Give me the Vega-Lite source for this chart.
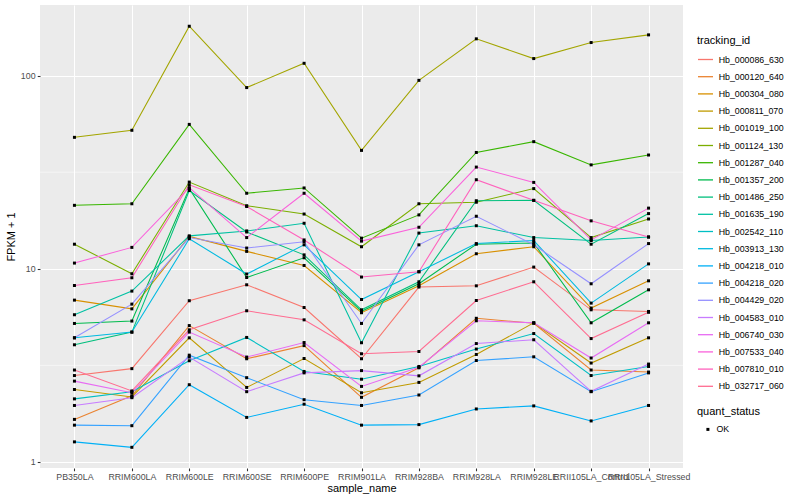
{
"$schema": "https://vega.github.io/schema/vega-lite/v6.json",
"width": 643, "height": 463,
"autosize": {"type": "none"},
"padding": {"left": 40, "top": 5, "right": 117, "bottom": 32},
"background": "white",
"config": {
 "font": "Liberation Sans",
 "view": {"fill": "#EBEBEB", "stroke": null},
 "axis": {"domain": false, "grid": true, "gridColor": "white", "gridWidth": 1.07, "tickColor": "#333333", "tickSize": 2.75, "tickWidth": 1.07, "labelColor": "#4D4D4D", "labelFontSize": 8.8, "labelFont": "Liberation Sans", "titleFont": "Liberation Sans", "titleFontSize": 11, "titleFontWeight": "normal", "titleColor": "black", "labelPadding": 2.2},
 "legend": {"labelFont": "Liberation Sans", "titleFont": "Liberation Sans"}
},
"datasets": {
 "minor": [{"g": 3.1623}, {"g": 31.623}],
 "fpkm": [
{"tracking_id":"Hb_000086_630","sample_name":"PB350LA","fpkm":2.80,"quant_status":"OK"},
{"tracking_id":"Hb_000086_630","sample_name":"RRIM600LA","fpkm":3.04,"quant_status":"OK"},
{"tracking_id":"Hb_000086_630","sample_name":"RRIM600LE","fpkm":6.83,"quant_status":"OK"},
{"tracking_id":"Hb_000086_630","sample_name":"RRIM600SE","fpkm":8.26,"quant_status":"OK"},
{"tracking_id":"Hb_000086_630","sample_name":"RRIM600PE","fpkm":6.30,"quant_status":"OK"},
{"tracking_id":"Hb_000086_630","sample_name":"RRIM901LA","fpkm":3.42,"quant_status":"OK"},
{"tracking_id":"Hb_000086_630","sample_name":"RRIM928BA","fpkm":8.04,"quant_status":"OK"},
{"tracking_id":"Hb_000086_630","sample_name":"RRIM928LA","fpkm":8.16,"quant_status":"OK"},
{"tracking_id":"Hb_000086_630","sample_name":"RRIM928LE","fpkm":10.2,"quant_status":"OK"},
{"tracking_id":"Hb_000086_630","sample_name":"RRII105LA_Control","fpkm":6.13,"quant_status":"OK"},
{"tracking_id":"Hb_000086_630","sample_name":"RRII105LA_Stressed","fpkm":6.01,"quant_status":"OK"},
{"tracking_id":"Hb_000120_640","sample_name":"PB350LA","fpkm":1.66,"quant_status":"OK"},
{"tracking_id":"Hb_000120_640","sample_name":"RRIM600LA","fpkm":2.20,"quant_status":"OK"},
{"tracking_id":"Hb_000120_640","sample_name":"RRIM600LE","fpkm":5.08,"quant_status":"OK"},
{"tracking_id":"Hb_000120_640","sample_name":"RRIM600SE","fpkm":3.42,"quant_status":"OK"},
{"tracking_id":"Hb_000120_640","sample_name":"RRIM600PE","fpkm":4.00,"quant_status":"OK"},
{"tracking_id":"Hb_000120_640","sample_name":"RRIM901LA","fpkm":2.16,"quant_status":"OK"},
{"tracking_id":"Hb_000120_640","sample_name":"RRIM928BA","fpkm":3.07,"quant_status":"OK"},
{"tracking_id":"Hb_000120_640","sample_name":"RRIM928LA","fpkm":5.54,"quant_status":"OK"},
{"tracking_id":"Hb_000120_640","sample_name":"RRIM928LE","fpkm":5.22,"quant_status":"OK"},
{"tracking_id":"Hb_000120_640","sample_name":"RRII105LA_Control","fpkm":2.99,"quant_status":"OK"},
{"tracking_id":"Hb_000120_640","sample_name":"RRII105LA_Stressed","fpkm":2.92,"quant_status":"OK"},
{"tracking_id":"Hb_000304_080","sample_name":"PB350LA","fpkm":6.88,"quant_status":"OK"},
{"tracking_id":"Hb_000304_080","sample_name":"RRIM600LA","fpkm":6.20,"quant_status":"OK"},
{"tracking_id":"Hb_000304_080","sample_name":"RRIM600LE","fpkm":14.7,"quant_status":"OK"},
{"tracking_id":"Hb_000304_080","sample_name":"RRIM600SE","fpkm":12.3,"quant_status":"OK"},
{"tracking_id":"Hb_000304_080","sample_name":"RRIM600PE","fpkm":10.4,"quant_status":"OK"},
{"tracking_id":"Hb_000304_080","sample_name":"RRIM901LA","fpkm":5.92,"quant_status":"OK"},
{"tracking_id":"Hb_000304_080","sample_name":"RRIM928BA","fpkm":8.16,"quant_status":"OK"},
{"tracking_id":"Hb_000304_080","sample_name":"RRIM928LA","fpkm":11.96,"quant_status":"OK"},
{"tracking_id":"Hb_000304_080","sample_name":"RRIM928LE","fpkm":13.0,"quant_status":"OK"},
{"tracking_id":"Hb_000304_080","sample_name":"RRII105LA_Control","fpkm":6.26,"quant_status":"OK"},
{"tracking_id":"Hb_000304_080","sample_name":"RRII105LA_Stressed","fpkm":8.66,"quant_status":"OK"},
{"tracking_id":"Hb_000811_070","sample_name":"PB350LA","fpkm":2.37,"quant_status":"OK"},
{"tracking_id":"Hb_000811_070","sample_name":"RRIM600LA","fpkm":2.17,"quant_status":"OK"},
{"tracking_id":"Hb_000811_070","sample_name":"RRIM600LE","fpkm":4.39,"quant_status":"OK"},
{"tracking_id":"Hb_000811_070","sample_name":"RRIM600SE","fpkm":2.43,"quant_status":"OK"},
{"tracking_id":"Hb_000811_070","sample_name":"RRIM600PE","fpkm":3.43,"quant_status":"OK"},
{"tracking_id":"Hb_000811_070","sample_name":"RRIM901LA","fpkm":2.28,"quant_status":"OK"},
{"tracking_id":"Hb_000811_070","sample_name":"RRIM928BA","fpkm":2.58,"quant_status":"OK"},
{"tracking_id":"Hb_000811_070","sample_name":"RRIM928LA","fpkm":3.60,"quant_status":"OK"},
{"tracking_id":"Hb_000811_070","sample_name":"RRIM928LE","fpkm":5.25,"quant_status":"OK"},
{"tracking_id":"Hb_000811_070","sample_name":"RRII105LA_Control","fpkm":3.25,"quant_status":"OK"},
{"tracking_id":"Hb_000811_070","sample_name":"RRII105LA_Stressed","fpkm":4.39,"quant_status":"OK"},
{"tracking_id":"Hb_001019_100","sample_name":"PB350LA","fpkm":47.9,"quant_status":"OK"},
{"tracking_id":"Hb_001019_100","sample_name":"RRIM600LA","fpkm":52.1,"quant_status":"OK"},
{"tracking_id":"Hb_001019_100","sample_name":"RRIM600LE","fpkm":180.1,"quant_status":"OK"},
{"tracking_id":"Hb_001019_100","sample_name":"RRIM600SE","fpkm":86.7,"quant_status":"OK"},
{"tracking_id":"Hb_001019_100","sample_name":"RRIM600PE","fpkm":115.8,"quant_status":"OK"},
{"tracking_id":"Hb_001019_100","sample_name":"RRIM901LA","fpkm":41.0,"quant_status":"OK"},
{"tracking_id":"Hb_001019_100","sample_name":"RRIM928BA","fpkm":94.5,"quant_status":"OK"},
{"tracking_id":"Hb_001019_100","sample_name":"RRIM928LA","fpkm":155.0,"quant_status":"OK"},
{"tracking_id":"Hb_001019_100","sample_name":"RRIM928LE","fpkm":122.5,"quant_status":"OK"},
{"tracking_id":"Hb_001019_100","sample_name":"RRII105LA_Control","fpkm":148.3,"quant_status":"OK"},
{"tracking_id":"Hb_001019_100","sample_name":"RRII105LA_Stressed","fpkm":162.5,"quant_status":"OK"},
{"tracking_id":"Hb_001124_130","sample_name":"PB350LA","fpkm":13.4,"quant_status":"OK"},
{"tracking_id":"Hb_001124_130","sample_name":"RRIM600LA","fpkm":9.42,"quant_status":"OK"},
{"tracking_id":"Hb_001124_130","sample_name":"RRIM600LE","fpkm":28.1,"quant_status":"OK"},
{"tracking_id":"Hb_001124_130","sample_name":"RRIM600SE","fpkm":21.2,"quant_status":"OK"},
{"tracking_id":"Hb_001124_130","sample_name":"RRIM600PE","fpkm":19.2,"quant_status":"OK"},
{"tracking_id":"Hb_001124_130","sample_name":"RRIM901LA","fpkm":13.0,"quant_status":"OK"},
{"tracking_id":"Hb_001124_130","sample_name":"RRIM928BA","fpkm":21.7,"quant_status":"OK"},
{"tracking_id":"Hb_001124_130","sample_name":"RRIM928LA","fpkm":22.1,"quant_status":"OK"},
{"tracking_id":"Hb_001124_130","sample_name":"RRIM928LE","fpkm":26.0,"quant_status":"OK"},
{"tracking_id":"Hb_001124_130","sample_name":"RRII105LA_Control","fpkm":14.5,"quant_status":"OK"},
{"tracking_id":"Hb_001124_130","sample_name":"RRII105LA_Stressed","fpkm":18.1,"quant_status":"OK"},
{"tracking_id":"Hb_001287_040","sample_name":"PB350LA","fpkm":21.3,"quant_status":"OK"},
{"tracking_id":"Hb_001287_040","sample_name":"RRIM600LA","fpkm":21.7,"quant_status":"OK"},
{"tracking_id":"Hb_001287_040","sample_name":"RRIM600LE","fpkm":55.9,"quant_status":"OK"},
{"tracking_id":"Hb_001287_040","sample_name":"RRIM600SE","fpkm":24.6,"quant_status":"OK"},
{"tracking_id":"Hb_001287_040","sample_name":"RRIM600PE","fpkm":26.2,"quant_status":"OK"},
{"tracking_id":"Hb_001287_040","sample_name":"RRIM901LA","fpkm":14.4,"quant_status":"OK"},
{"tracking_id":"Hb_001287_040","sample_name":"RRIM928BA","fpkm":19.0,"quant_status":"OK"},
{"tracking_id":"Hb_001287_040","sample_name":"RRIM928LA","fpkm":40.0,"quant_status":"OK"},
{"tracking_id":"Hb_001287_040","sample_name":"RRIM928LE","fpkm":45.5,"quant_status":"OK"},
{"tracking_id":"Hb_001287_040","sample_name":"RRII105LA_Control","fpkm":34.5,"quant_status":"OK"},
{"tracking_id":"Hb_001287_040","sample_name":"RRII105LA_Stressed","fpkm":38.8,"quant_status":"OK"},
{"tracking_id":"Hb_001357_200","sample_name":"PB350LA","fpkm":5.21,"quant_status":"OK"},
{"tracking_id":"Hb_001357_200","sample_name":"RRIM600LA","fpkm":5.36,"quant_status":"OK"},
{"tracking_id":"Hb_001357_200","sample_name":"RRIM600LE","fpkm":26.0,"quant_status":"OK"},
{"tracking_id":"Hb_001357_200","sample_name":"RRIM600SE","fpkm":9.01,"quant_status":"OK"},
{"tracking_id":"Hb_001357_200","sample_name":"RRIM600PE","fpkm":11.4,"quant_status":"OK"},
{"tracking_id":"Hb_001357_200","sample_name":"RRIM901LA","fpkm":6.02,"quant_status":"OK"},
{"tracking_id":"Hb_001357_200","sample_name":"RRIM928BA","fpkm":8.36,"quant_status":"OK"},
{"tracking_id":"Hb_001357_200","sample_name":"RRIM928LA","fpkm":13.4,"quant_status":"OK"},
{"tracking_id":"Hb_001357_200","sample_name":"RRIM928LE","fpkm":13.6,"quant_status":"OK"},
{"tracking_id":"Hb_001357_200","sample_name":"RRII105LA_Control","fpkm":5.25,"quant_status":"OK"},
{"tracking_id":"Hb_001357_200","sample_name":"RRII105LA_Stressed","fpkm":7.78,"quant_status":"OK"},
{"tracking_id":"Hb_001486_250","sample_name":"PB350LA","fpkm":4.04,"quant_status":"OK"},
{"tracking_id":"Hb_001486_250","sample_name":"RRIM600LA","fpkm":4.70,"quant_status":"OK"},
{"tracking_id":"Hb_001486_250","sample_name":"RRIM600LE","fpkm":25.4,"quant_status":"OK"},
{"tracking_id":"Hb_001486_250","sample_name":"RRIM600SE","fpkm":15.5,"quant_status":"OK"},
{"tracking_id":"Hb_001486_250","sample_name":"RRIM600PE","fpkm":11.8,"quant_status":"OK"},
{"tracking_id":"Hb_001486_250","sample_name":"RRIM901LA","fpkm":6.13,"quant_status":"OK"},
{"tracking_id":"Hb_001486_250","sample_name":"RRIM928BA","fpkm":8.56,"quant_status":"OK"},
{"tracking_id":"Hb_001486_250","sample_name":"RRIM928LA","fpkm":22.5,"quant_status":"OK"},
{"tracking_id":"Hb_001486_250","sample_name":"RRIM928LE","fpkm":22.6,"quant_status":"OK"},
{"tracking_id":"Hb_001486_250","sample_name":"RRII105LA_Control","fpkm":13.4,"quant_status":"OK"},
{"tracking_id":"Hb_001486_250","sample_name":"RRII105LA_Stressed","fpkm":19.3,"quant_status":"OK"},
{"tracking_id":"Hb_001635_190","sample_name":"PB350LA","fpkm":5.78,"quant_status":"OK"},
{"tracking_id":"Hb_001635_190","sample_name":"RRIM600LA","fpkm":7.66,"quant_status":"OK"},
{"tracking_id":"Hb_001635_190","sample_name":"RRIM600LE","fpkm":14.8,"quant_status":"OK"},
{"tracking_id":"Hb_001635_190","sample_name":"RRIM600SE","fpkm":15.7,"quant_status":"OK"},
{"tracking_id":"Hb_001635_190","sample_name":"RRIM600PE","fpkm":17.2,"quant_status":"OK"},
{"tracking_id":"Hb_001635_190","sample_name":"RRIM901LA","fpkm":4.14,"quant_status":"OK"},
{"tracking_id":"Hb_001635_190","sample_name":"RRIM928BA","fpkm":15.3,"quant_status":"OK"},
{"tracking_id":"Hb_001635_190","sample_name":"RRIM928LA","fpkm":16.7,"quant_status":"OK"},
{"tracking_id":"Hb_001635_190","sample_name":"RRIM928LE","fpkm":14.5,"quant_status":"OK"},
{"tracking_id":"Hb_001635_190","sample_name":"RRII105LA_Control","fpkm":14.0,"quant_status":"OK"},
{"tracking_id":"Hb_001635_190","sample_name":"RRII105LA_Stressed","fpkm":14.6,"quant_status":"OK"},
{"tracking_id":"Hb_002542_110","sample_name":"PB350LA","fpkm":2.12,"quant_status":"OK"},
{"tracking_id":"Hb_002542_110","sample_name":"RRIM600LA","fpkm":2.31,"quant_status":"OK"},
{"tracking_id":"Hb_002542_110","sample_name":"RRIM600LE","fpkm":3.34,"quant_status":"OK"},
{"tracking_id":"Hb_002542_110","sample_name":"RRIM600SE","fpkm":4.41,"quant_status":"OK"},
{"tracking_id":"Hb_002542_110","sample_name":"RRIM600PE","fpkm":2.94,"quant_status":"OK"},
{"tracking_id":"Hb_002542_110","sample_name":"RRIM901LA","fpkm":2.68,"quant_status":"OK"},
{"tracking_id":"Hb_002542_110","sample_name":"RRIM928BA","fpkm":3.12,"quant_status":"OK"},
{"tracking_id":"Hb_002542_110","sample_name":"RRIM928LA","fpkm":3.84,"quant_status":"OK"},
{"tracking_id":"Hb_002542_110","sample_name":"RRIM928LE","fpkm":4.62,"quant_status":"OK"},
{"tracking_id":"Hb_002542_110","sample_name":"RRII105LA_Control","fpkm":2.80,"quant_status":"OK"},
{"tracking_id":"Hb_002542_110","sample_name":"RRII105LA_Stressed","fpkm":3.12,"quant_status":"OK"},
{"tracking_id":"Hb_003913_130","sample_name":"PB350LA","fpkm":4.39,"quant_status":"OK"},
{"tracking_id":"Hb_003913_130","sample_name":"RRIM600LA","fpkm":4.70,"quant_status":"OK"},
{"tracking_id":"Hb_003913_130","sample_name":"RRIM600LE","fpkm":14.3,"quant_status":"OK"},
{"tracking_id":"Hb_003913_130","sample_name":"RRIM600SE","fpkm":9.39,"quant_status":"OK"},
{"tracking_id":"Hb_003913_130","sample_name":"RRIM600PE","fpkm":13.3,"quant_status":"OK"},
{"tracking_id":"Hb_003913_130","sample_name":"RRIM901LA","fpkm":6.93,"quant_status":"OK"},
{"tracking_id":"Hb_003913_130","sample_name":"RRIM928BA","fpkm":9.65,"quant_status":"OK"},
{"tracking_id":"Hb_003913_130","sample_name":"RRIM928LA","fpkm":13.5,"quant_status":"OK"},
{"tracking_id":"Hb_003913_130","sample_name":"RRIM928LE","fpkm":14.0,"quant_status":"OK"},
{"tracking_id":"Hb_003913_130","sample_name":"RRII105LA_Control","fpkm":6.64,"quant_status":"OK"},
{"tracking_id":"Hb_003913_130","sample_name":"RRII105LA_Stressed","fpkm":10.6,"quant_status":"OK"},
{"tracking_id":"Hb_004218_010","sample_name":"PB350LA","fpkm":1.27,"quant_status":"OK"},
{"tracking_id":"Hb_004218_010","sample_name":"RRIM600LA","fpkm":1.19,"quant_status":"OK"},
{"tracking_id":"Hb_004218_010","sample_name":"RRIM600LE","fpkm":2.51,"quant_status":"OK"},
{"tracking_id":"Hb_004218_010","sample_name":"RRIM600SE","fpkm":1.70,"quant_status":"OK"},
{"tracking_id":"Hb_004218_010","sample_name":"RRIM600PE","fpkm":1.99,"quant_status":"OK"},
{"tracking_id":"Hb_004218_010","sample_name":"RRIM901LA","fpkm":1.55,"quant_status":"OK"},
{"tracking_id":"Hb_004218_010","sample_name":"RRIM928BA","fpkm":1.56,"quant_status":"OK"},
{"tracking_id":"Hb_004218_010","sample_name":"RRIM928LA","fpkm":1.88,"quant_status":"OK"},
{"tracking_id":"Hb_004218_010","sample_name":"RRIM928LE","fpkm":1.95,"quant_status":"OK"},
{"tracking_id":"Hb_004218_010","sample_name":"RRII105LA_Control","fpkm":1.63,"quant_status":"OK"},
{"tracking_id":"Hb_004218_010","sample_name":"RRII105LA_Stressed","fpkm":1.96,"quant_status":"OK"},
{"tracking_id":"Hb_004218_020","sample_name":"PB350LA","fpkm":1.55,"quant_status":"OK"},
{"tracking_id":"Hb_004218_020","sample_name":"RRIM600LA","fpkm":1.54,"quant_status":"OK"},
{"tracking_id":"Hb_004218_020","sample_name":"RRIM600LE","fpkm":3.57,"quant_status":"OK"},
{"tracking_id":"Hb_004218_020","sample_name":"RRIM600SE","fpkm":2.73,"quant_status":"OK"},
{"tracking_id":"Hb_004218_020","sample_name":"RRIM600PE","fpkm":2.10,"quant_status":"OK"},
{"tracking_id":"Hb_004218_020","sample_name":"RRIM901LA","fpkm":1.96,"quant_status":"OK"},
{"tracking_id":"Hb_004218_020","sample_name":"RRIM928BA","fpkm":2.22,"quant_status":"OK"},
{"tracking_id":"Hb_004218_020","sample_name":"RRIM928LA","fpkm":3.35,"quant_status":"OK"},
{"tracking_id":"Hb_004218_020","sample_name":"RRIM928LE","fpkm":3.50,"quant_status":"OK"},
{"tracking_id":"Hb_004218_020","sample_name":"RRII105LA_Control","fpkm":2.31,"quant_status":"OK"},
{"tracking_id":"Hb_004218_020","sample_name":"RRII105LA_Stressed","fpkm":2.89,"quant_status":"OK"},
{"tracking_id":"Hb_004429_020","sample_name":"PB350LA","fpkm":4.39,"quant_status":"OK"},
{"tracking_id":"Hb_004429_020","sample_name":"RRIM600LA","fpkm":6.56,"quant_status":"OK"},
{"tracking_id":"Hb_004429_020","sample_name":"RRIM600LE","fpkm":14.5,"quant_status":"OK"},
{"tracking_id":"Hb_004429_020","sample_name":"RRIM600SE","fpkm":12.8,"quant_status":"OK"},
{"tracking_id":"Hb_004429_020","sample_name":"RRIM600PE","fpkm":13.8,"quant_status":"OK"},
{"tracking_id":"Hb_004429_020","sample_name":"RRIM901LA","fpkm":5.21,"quant_status":"OK"},
{"tracking_id":"Hb_004429_020","sample_name":"RRIM928BA","fpkm":13.3,"quant_status":"OK"},
{"tracking_id":"Hb_004429_020","sample_name":"RRIM928LA","fpkm":18.7,"quant_status":"OK"},
{"tracking_id":"Hb_004429_020","sample_name":"RRIM928LE","fpkm":13.3,"quant_status":"OK"},
{"tracking_id":"Hb_004429_020","sample_name":"RRII105LA_Control","fpkm":8.36,"quant_status":"OK"},
{"tracking_id":"Hb_004429_020","sample_name":"RRII105LA_Stressed","fpkm":13.5,"quant_status":"OK"},
{"tracking_id":"Hb_004583_010","sample_name":"PB350LA","fpkm":1.96,"quant_status":"OK"},
{"tracking_id":"Hb_004583_010","sample_name":"RRIM600LA","fpkm":2.15,"quant_status":"OK"},
{"tracking_id":"Hb_004583_010","sample_name":"RRIM600LE","fpkm":3.49,"quant_status":"OK"},
{"tracking_id":"Hb_004583_010","sample_name":"RRIM600SE","fpkm":2.31,"quant_status":"OK"},
{"tracking_id":"Hb_004583_010","sample_name":"RRIM600PE","fpkm":2.89,"quant_status":"OK"},
{"tracking_id":"Hb_004583_010","sample_name":"RRIM901LA","fpkm":2.97,"quant_status":"OK"},
{"tracking_id":"Hb_004583_010","sample_name":"RRIM928BA","fpkm":2.79,"quant_status":"OK"},
{"tracking_id":"Hb_004583_010","sample_name":"RRIM928LA","fpkm":4.10,"quant_status":"OK"},
{"tracking_id":"Hb_004583_010","sample_name":"RRIM928LE","fpkm":4.29,"quant_status":"OK"},
{"tracking_id":"Hb_004583_010","sample_name":"RRII105LA_Control","fpkm":2.32,"quant_status":"OK"},
{"tracking_id":"Hb_004583_010","sample_name":"RRII105LA_Stressed","fpkm":3.21,"quant_status":"OK"},
{"tracking_id":"Hb_006740_030","sample_name":"PB350LA","fpkm":2.62,"quant_status":"OK"},
{"tracking_id":"Hb_006740_030","sample_name":"RRIM600LA","fpkm":2.28,"quant_status":"OK"},
{"tracking_id":"Hb_006740_030","sample_name":"RRIM600LE","fpkm":4.70,"quant_status":"OK"},
{"tracking_id":"Hb_006740_030","sample_name":"RRIM600SE","fpkm":3.49,"quant_status":"OK"},
{"tracking_id":"Hb_006740_030","sample_name":"RRIM600PE","fpkm":4.15,"quant_status":"OK"},
{"tracking_id":"Hb_006740_030","sample_name":"RRIM901LA","fpkm":2.46,"quant_status":"OK"},
{"tracking_id":"Hb_006740_030","sample_name":"RRIM928BA","fpkm":3.09,"quant_status":"OK"},
{"tracking_id":"Hb_006740_030","sample_name":"RRIM928LA","fpkm":5.38,"quant_status":"OK"},
{"tracking_id":"Hb_006740_030","sample_name":"RRIM928LE","fpkm":5.25,"quant_status":"OK"},
{"tracking_id":"Hb_006740_030","sample_name":"RRII105LA_Control","fpkm":3.45,"quant_status":"OK"},
{"tracking_id":"Hb_006740_030","sample_name":"RRII105LA_Stressed","fpkm":5.25,"quant_status":"OK"},
{"tracking_id":"Hb_007533_040","sample_name":"PB350LA","fpkm":10.7,"quant_status":"OK"},
{"tracking_id":"Hb_007533_040","sample_name":"RRIM600LA","fpkm":12.9,"quant_status":"OK"},
{"tracking_id":"Hb_007533_040","sample_name":"RRIM600LE","fpkm":26.3,"quant_status":"OK"},
{"tracking_id":"Hb_007533_040","sample_name":"RRIM600SE","fpkm":14.5,"quant_status":"OK"},
{"tracking_id":"Hb_007533_040","sample_name":"RRIM600PE","fpkm":24.6,"quant_status":"OK"},
{"tracking_id":"Hb_007533_040","sample_name":"RRIM901LA","fpkm":13.9,"quant_status":"OK"},
{"tracking_id":"Hb_007533_040","sample_name":"RRIM928BA","fpkm":16.4,"quant_status":"OK"},
{"tracking_id":"Hb_007533_040","sample_name":"RRIM928LA","fpkm":33.6,"quant_status":"OK"},
{"tracking_id":"Hb_007533_040","sample_name":"RRIM928LE","fpkm":28.0,"quant_status":"OK"},
{"tracking_id":"Hb_007533_040","sample_name":"RRII105LA_Control","fpkm":14.1,"quant_status":"OK"},
{"tracking_id":"Hb_007533_040","sample_name":"RRII105LA_Stressed","fpkm":20.6,"quant_status":"OK"},
{"tracking_id":"Hb_007810_010","sample_name":"PB350LA","fpkm":8.19,"quant_status":"OK"},
{"tracking_id":"Hb_007810_010","sample_name":"RRIM600LA","fpkm":8.98,"quant_status":"OK"},
{"tracking_id":"Hb_007810_010","sample_name":"RRIM600LE","fpkm":27.2,"quant_status":"OK"},
{"tracking_id":"Hb_007810_010","sample_name":"RRIM600SE","fpkm":21.0,"quant_status":"OK"},
{"tracking_id":"Hb_007810_010","sample_name":"RRIM600PE","fpkm":14.1,"quant_status":"OK"},
{"tracking_id":"Hb_007810_010","sample_name":"RRIM901LA","fpkm":9.06,"quant_status":"OK"},
{"tracking_id":"Hb_007810_010","sample_name":"RRIM928BA","fpkm":9.65,"quant_status":"OK"},
{"tracking_id":"Hb_007810_010","sample_name":"RRIM928LA","fpkm":28.9,"quant_status":"OK"},
{"tracking_id":"Hb_007810_010","sample_name":"RRIM928LE","fpkm":22.6,"quant_status":"OK"},
{"tracking_id":"Hb_007810_010","sample_name":"RRII105LA_Control","fpkm":17.7,"quant_status":"OK"},
{"tracking_id":"Hb_007810_010","sample_name":"RRII105LA_Stressed","fpkm":14.6,"quant_status":"OK"},
{"tracking_id":"Hb_032717_060","sample_name":"PB350LA","fpkm":2.99,"quant_status":"OK"},
{"tracking_id":"Hb_032717_060","sample_name":"RRIM600LA","fpkm":2.33,"quant_status":"OK"},
{"tracking_id":"Hb_032717_060","sample_name":"RRIM600LE","fpkm":4.83,"quant_status":"OK"},
{"tracking_id":"Hb_032717_060","sample_name":"RRIM600SE","fpkm":6.06,"quant_status":"OK"},
{"tracking_id":"Hb_032717_060","sample_name":"RRIM600PE","fpkm":5.44,"quant_status":"OK"},
{"tracking_id":"Hb_032717_060","sample_name":"RRIM901LA","fpkm":3.63,"quant_status":"OK"},
{"tracking_id":"Hb_032717_060","sample_name":"RRIM928BA","fpkm":3.73,"quant_status":"OK"},
{"tracking_id":"Hb_032717_060","sample_name":"RRIM928LA","fpkm":6.85,"quant_status":"OK"},
{"tracking_id":"Hb_032717_060","sample_name":"RRIM928LE","fpkm":8.56,"quant_status":"OK"},
{"tracking_id":"Hb_032717_060","sample_name":"RRII105LA_Control","fpkm":4.35,"quant_status":"OK"},
{"tracking_id":"Hb_032717_060","sample_name":"RRII105LA_Stressed","fpkm":5.95,"quant_status":"OK"}
 ]
},
"layer": [
 {
  "data": {"name": "minor"},
  "mark": {"type": "rule", "color": "white", "strokeWidth": 0.53},
  "encoding": {
   "y": {"field": "g", "type": "quantitative", "title": "FPKM + 1",
         "scale": {"type": "log", "domain": [0.93, 232], "nice": false},
         "axis": {"values": [1, 10, 100], "format": "d", "titlePadding": 4}}
  }
 },
 {
  "data": {"name": "fpkm"},
  "mark": {"type": "line", "strokeWidth": 1.07},
  "encoding": {
   "x": {"field": "sample_name", "type": "nominal", "title": "sample_name",
         "sort": ["PB350LA","RRIM600LA","RRIM600LE","RRIM600SE","RRIM600PE","RRIM901LA","RRIM928BA","RRIM928LA","RRIM928LE","RRII105LA_Control","RRII105LA_Stressed"],
         "scale": {"type": "point", "padding": 0.6},
         "axis": {"labelAngle": 0, "labelOverlap": false, "labelLimit": 300, "titlePadding": 1}},
   "y": {"field": "fpkm", "type": "quantitative", "title": "FPKM + 1",
         "scale": {"type": "log", "domain": [0.93, 232], "nice": false},
         "axis": {"values": [1, 10, 100], "format": "d", "titlePadding": 4}},
   "color": {"field": "tracking_id", "type": "nominal",
     "scale": {"domain": ["Hb_000086_630","Hb_000120_640","Hb_000304_080","Hb_000811_070","Hb_001019_100","Hb_001124_130","Hb_001287_040","Hb_001357_200","Hb_001486_250","Hb_001635_190","Hb_002542_110","Hb_003913_130","Hb_004218_010","Hb_004218_020","Hb_004429_020","Hb_004583_010","Hb_006740_030","Hb_007533_040","Hb_007810_010","Hb_032717_060"],
               "range": ["#F8766D","#EA8331","#D89000","#C09B00","#A3A500","#7CAE00","#39B600","#00BB4E","#00BF7D","#00C1A3","#00BFC4","#00BAE0","#00B0F6","#35A2FF","#9590FF","#C77CFF","#E76BF3","#FA62DB","#FF62BC","#FF6C91"]},
     "legend": {"title": "tracking_id", "orient": "none", "legendX": 657, "legendY": 30,
       "symbolType": "stroke", "symbolSize": 225, "symbolStrokeWidth": 1.3,
       "labelFontSize": 8.8, "labelColor": "black", "titleFontSize": 11, "titleFontWeight": "normal", "titleColor": "black",
       "rowPadding": 3.2, "titlePadding": 5, "labelOffset": 4.7, "padding": 0}}
  }
 },
 {
  "data": {"name": "fpkm"},
  "mark": {"type": "point", "shape": "square", "filled": true, "color": "black", "size": 9, "opacity": 1},
  "encoding": {
   "x": {"field": "sample_name", "type": "nominal", "title": "sample_name",
         "sort": ["PB350LA","RRIM600LA","RRIM600LE","RRIM600SE","RRIM600PE","RRIM901LA","RRIM928BA","RRIM928LA","RRIM928LE","RRII105LA_Control","RRII105LA_Stressed"]},
   "y": {"field": "fpkm", "type": "quantitative", "title": "FPKM + 1"},
   "shape": {"field": "quant_status", "type": "nominal", "scale": {"range": ["square"]},
     "legend": {"title": "quant_status", "orient": "none", "legendX": 657, "legendY": 401,
       "symbolType": "square", "symbolSize": 9, "symbolFillColor": "black", "symbolStrokeColor": "black", "symbolStrokeWidth": 0,
       "symbolOffset": 6.5, "labelOffset": 4.2,
       "labelFontSize": 8.8, "labelColor": "black", "titleFontSize": 11, "titleFontWeight": "normal", "titleColor": "black",
       "titlePadding": 8, "padding": 0}}
  }
 }
]
}
